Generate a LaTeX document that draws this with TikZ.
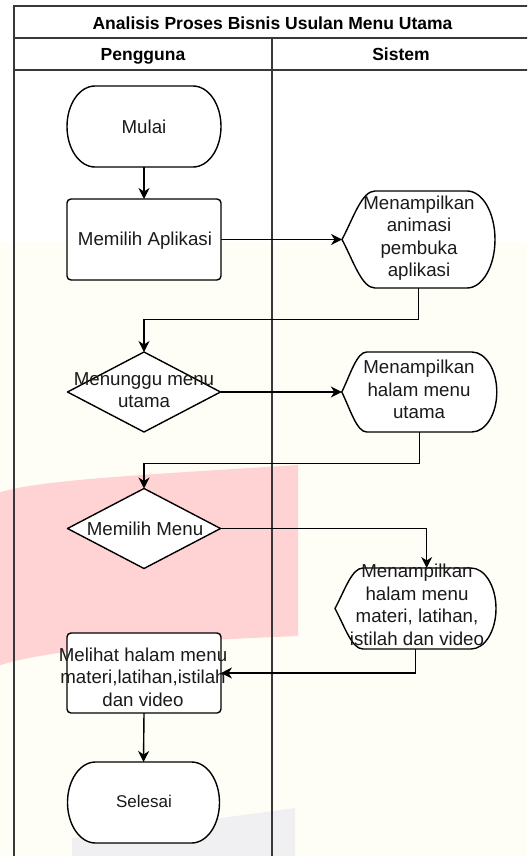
\documentclass[tikz,border=0pt]{standalone}
\usepackage{fontspec}
\setmainfont{Liberation Sans}
\usetikzlibrary{arrows.meta,calc}
\definecolor{cream}{RGB}{254,254,247}
\definecolor{wmpink}{RGB}{255,211,212}
\definecolor{wmgrey}{RGB}{240,240,243}
\definecolor{framec}{RGB}{56,56,56}
\definecolor{inkc}{RGB}{26,26,26}
% terminator outline: cx, cy, w, h, rx
\newcommand\rsTerm[5]{%
  \path[outline] ({#1-#3/2+#5},{#2+#4/2}) -- ({#1+#3/2-#5},{#2+#4/2})
    arc[start angle=90,end angle=-90,x radius=#5,y radius={#4/2}]
    -- ({#1-#3/2+#5},{#2-#4/2})
    arc[start angle=270,end angle=90,x radius=#5,y radius={#4/2}] -- cycle;}
% display outline: cx, cy, w, h, dx, r
\newcommand\rsDisp[6]{%
  \path[outline] ({#1-#3/2},{#2})
    .. controls ({#1-#3/2+0.35*#5},{#2+0.225*#4}) and ({#1-#3/2+0.6*#5},{#2+#4/2}) .. ({#1-#3/2+#5},{#2+#4/2})
    -- ({#1+#3/2-#6},{#2+#4/2})
    arc[start angle=90,end angle=-90,x radius=#6,y radius={#4/2}]
    -- ({#1-#3/2+#5},{#2-#4/2})
    .. controls ({#1-#3/2+0.6*#5},{#2-#4/2}) and ({#1-#3/2+0.35*#5},{#2-0.225*#4}) .. ({#1-#3/2},{#2}) -- cycle;}
% decision outline: cx, cy, w, h
\newcommand\rsDiam[4]{%
  \path[outline] ({#1-#3/2},{#2}) -- ({#1},{#2+#4/2}) -- ({#1+#3/2},{#2}) -- ({#1},{#2-#4/2}) -- cycle;}
% process outline: cx, cy, w, h
\newcommand\rsProc[4]{%
  \path[outline,rounded corners=4pt] ({#1-#3/2},{#2-#4/2}) rectangle ({#1+#3/2},{#2+#4/2});}
\begin{document}
\begin{tikzpicture}[x=1pt,y=1pt,
  frame/.style={draw=framec, line width=2pt},
  outline/.style={draw=black, line width=1.4pt, fill=white, line join=round},
  conn/.style={draw=black, line width=1.4pt, -{Stealth[length=11pt,width=11pt,inset=3.5pt]}},
  box/.style={inner sep=0pt, outer sep=0pt, draw=none},
  lbl/.style={inner sep=0pt, align=center, text=inkc,
    font=\fontsize{18.7}{22.5}\selectfont,
    execute at begin node=\strut, execute at end node=\strut},
  small/.style={lbl, font=\fontsize{17}{20.5}\selectfont},
  hdr/.style={inner sep=0pt, text=black, font=\fontsize{17.5}{21}\selectfont\bfseries,
    execute at begin node=\strut, execute at end node=\strut}]
\useasboundingbox (0,0) rectangle (527,-856);
\clip (0,0) rectangle (527,-856);
% background and watermark
\fill[white] (0,0) rectangle (527,-856);
\fill[cream] (0,-242) rectangle (527,-856);
\fill[wmpink] (-5,-494) .. controls (30,-481) and (120,-476) .. (298,-465)
  -- (298,-636) .. controls (150,-642) and (40,-650) .. (-5,-667) -- cycle;
\fill[wmgrey] (72,-838) -- (295,-808) -- (295,-860) -- (72,-860) -- cycle;
% swimlane frame
\draw[frame] (14,-6) rectangle (530,-900);
\draw[frame] (14,-38) -- (530,-38);
\draw[frame] (14,-70) -- (530,-70);
\draw[frame] (272,-38) -- (272,-900);
\node[hdr] (title) at (272.5,-25.8) {Analisis Proses Bisnis Usulan Menu Utama};
\node[hdr] (lane1) at (143,-56.6) {Pengguna};
\node[hdr] (lane2) at (401,-56.6) {Sistem};
% shapes
\rsTerm{144}{-126.5}{154}{81}{28}
\node[box, minimum width=154, minimum height=81] (mulai) at (144,-126.5) {};
\rsProc{144}{-239.5}{154}{81}
\node[box, minimum width=154, minimum height=81] (p1) at (144,-239.5) {};
\rsDisp{418.5}{-239.5}{153}{97}{33}{28}
\node[box, minimum width=153, minimum height=97] (d1) at (418.5,-239.5) {};
\rsDiam{144}{-392}{153}{80}
\node[box, minimum width=153, minimum height=80] (k1) at (144,-392) {};
\rsDisp{419.3}{-392}{155}{80}{25}{25}
\node[box, minimum width=155, minimum height=80] (d2) at (419.3,-392) {};
\rsDiam{144}{-528.5}{153}{80}
\node[box, minimum width=153, minimum height=80] (k2) at (144,-528.5) {};
\rsDisp{415.5}{-608.5}{161}{81}{28}{25}
\node[box, minimum width=161, minimum height=81] (d3) at (415.5,-608.5) {};
\rsProc{144}{-673}{154}{80}
\node[box, minimum width=154, minimum height=80] (p3) at (144,-673) {};
\rsTerm{143.5}{-802.5}{152}{81}{28}
\node[box, minimum width=152, minimum height=81] (selesai) at (143.5,-802.5) {};
% labels
\node[lbl] (mulaiT) at (144,-128.5) {Mulai};
\node[lbl] (p1T) at (145,-240.9) {Memilih Aplikasi};
\node[lbl] (d1T) at (419,-239.6) {Menampilkan\\animasi\\pembuka\\aplikasi};
\node[lbl] (k1T) at (144,-393.5) {Menunggu menu\\utama};
\node[lbl] (d2T) at (419,-393) {Menampilkan\\halam menu\\utama};
\node[lbl] (k2T) at (145,-530.5) {Memilih Menu};
\node[lbl] (d3T) at (417,-608) {Menampilkan\\halam menu\\materi, latihan,\\istilah dan video};
\node[lbl] (p3T) at (143,-680.2) {Melihat halam menu\\materi,latihan,istilah\\dan video};
\node[small] (selesaiT) at (144,-803.6) {Selesai};
% connectors
\coordinate (d3in) at (426.7,-568);
\draw[conn] (mulai.south) -- (p1.north);
\draw[conn] (p1.east) -- (d1.west);
\draw[conn] (d1.south) -- ++(0,-31.5) -| (k1.north);
\draw[conn] (k1.east) -- (d2.west);
\draw[conn] (d2.south) -- ++(0,-31.3) -| (k2.north);
\draw[conn] (k2.east) -| (d3in);
\draw[conn] (d3.south) |- (p3.east);
\draw[conn] (p3.south) -- (selesai.north);
\end{tikzpicture}
\end{document}
